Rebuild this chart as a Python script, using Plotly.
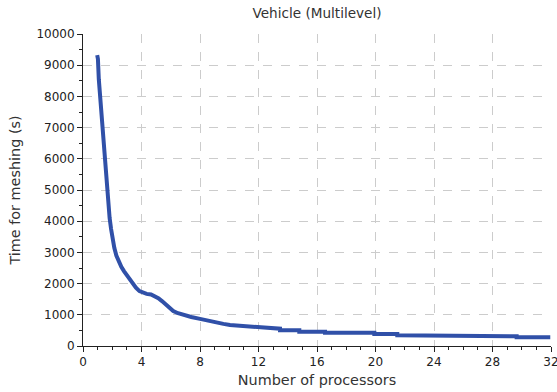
import plotly.graph_objects as go

# Meshing time versus number of processors (vehicle model, multilevel)
processors = [0.97, 1.02, 1.08, 1.14, 1.21, 1.27, 1.33, 1.39, 1.45, 1.52,
              1.58, 1.66, 1.74, 1.82, 1.92, 2.02, 2.14, 2.28, 2.45, 2.62,
              2.80, 3.00, 3.20, 3.40, 3.62, 3.86, 4.10, 4.35, 4.65, 4.92,
              5.15, 5.40, 5.65, 5.90, 6.17, 6.50, 6.86, 7.40, 8.00, 8.60,
              9.14, 9.60, 10.05, 10.70, 11.42, 12.00, 12.70,
              12.70, 13.47, 13.47, 14.79, 14.79, 16.55, 16.55, 19.92,
              19.92, 21.49, 21.49, 26.07, 26.07, 29.65, 29.65, 31.95]
mesh_time = [9320, 9200, 8550, 8200, 7650, 7150, 6800, 6500, 6150, 5750,
             5350, 4900, 4450, 4100, 3750, 3450, 3150, 2900, 2700, 2540,
             2400, 2260, 2120, 1990, 1870, 1760, 1700, 1670, 1650, 1600,
             1530, 1440, 1340, 1230, 1120, 1050, 990, 930, 870, 800,
             750, 710, 675, 650, 620, 590, 565,
             555, 555, 503, 503, 460, 460, 426, 426,
             385, 385, 343, 343, 311, 311, 279, 279]

x_ticks = list(range(0, 33, 4))
y_ticks = list(range(0, 10001, 1000))

FONT = "DejaVu Sans"

fig = go.Figure(
    go.Scatter(
        x=processors,
        y=mesh_time,
        mode="lines",
        line=dict(color="rgb(48,80,168)", width=4),
        showlegend=False,
    )
)

axis_common = dict(
    showline=True,
    linecolor="#222",
    linewidth=1,
    ticks="outside",
    ticklen=5,
    tickcolor="#222",
    showgrid=True,
    gridcolor="#cccccc",
    griddash="dash",
    gridwidth=1,
    zeroline=False,
    mirror=False,
    automargin=False,
    ticklabeloverflow="allow",
    tickfont=dict(family=FONT, size=12, color="#222"),
)

fig.update_layout(
    width=557,
    height=392,
    margin=dict(l=83, r=6, t=34, b=46),
    paper_bgcolor="white",
    plot_bgcolor="white",
    title=dict(
        text="Vehicle (Multilevel)",
        x=(83 + 551) / 2 / 557,
        xanchor="center",
        y=1 - 13 / 392,
        yanchor="middle",
        font=dict(family=FONT, size=13.6, color="#333"),
    ),
    xaxis=dict(
        axis_common,
        range=[0, 32],
        tickvals=x_ticks,
        ticktext=[str(v) for v in x_ticks],
        minor=dict(dtick=1, ticks="outside", ticklen=3, tickcolor="#222", showgrid=False),
        title=dict(text="Number of processors", font=dict(family=FONT, size=14.4, color="#333"), standoff=6),
    ),
    yaxis=dict(
        axis_common,
        range=[0, 10000],
        tickvals=y_ticks,
        ticktext=[str(v) for v in y_ticks],
        minor=dict(dtick=500, ticks="outside", ticklen=3, tickcolor="#222", showgrid=False),
        title=dict(text="Time for meshing (s)", font=dict(family=FONT, size=14.4, color="#333"), standoff=12),
    ),
)

fig.write_html("out.html")
